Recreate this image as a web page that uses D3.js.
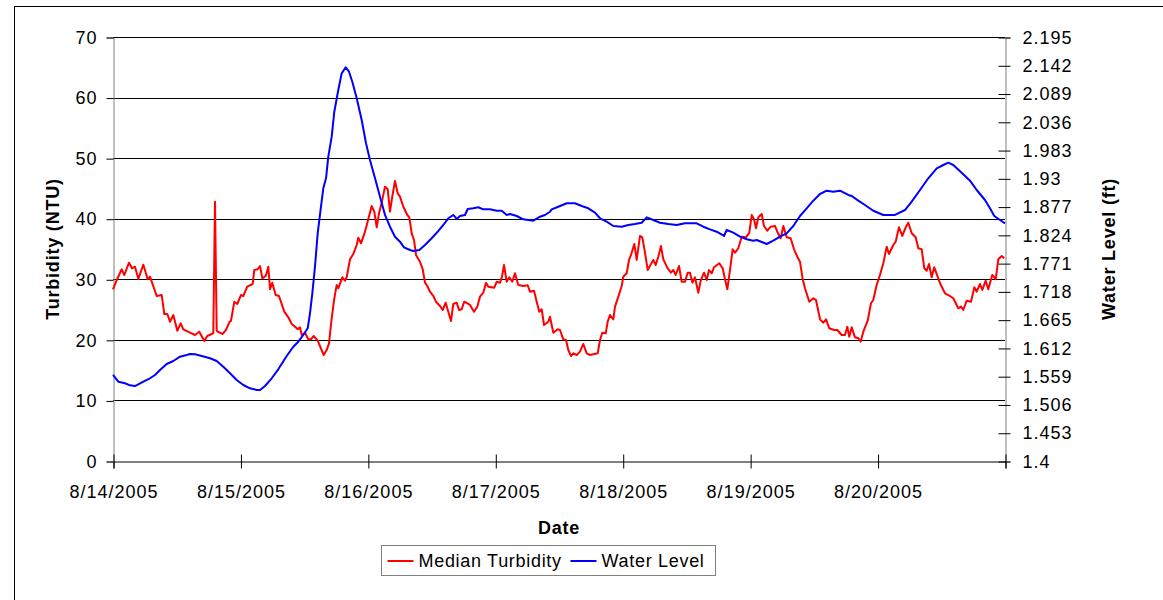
<!DOCTYPE html>
<html>
<head>
<meta charset="utf-8">
<script src="https://cdn.jsdelivr.net/npm/d3@7"></script>
<style>
  html, body { margin: 0; padding: 0; background: #fff; }
  svg text { font-family: "Liberation Sans", Arial, sans-serif; fill: #000; }
</style>
</head>
<body>
<svg id="chart" width="1163" height="600"></svg>
<script>
// Series start: 8/14/2005 00:00; sample times are given in hours from the start.
const startDate = new Date(2005, 7, 14);

// Median turbidity (NTU)
const turbidityHours = [
  0.0, 0.7, 1.64, 2.13, 3.01, 3.58, 4.14, 4.77, 5.71, 6.54, 6.97, 8.23, 9.17, 9.66, 10.23, 10.74,
  11.36, 12.11, 12.75, 13.24, 14.5, 15.44, 16.25, 17.2, 17.76, 18.59, 18.89, 19.21, 19.53, 19.72,
  20.66, 21.28, 21.9, 22.22, 22.85, 23.41, 24.11, 24.54, 25.29, 26.31, 26.61, 27.25, 27.69, 28.12,
  28.76, 29.25, 29.57, 30.0, 30.64, 31.26, 32.26, 33.02, 33.66, 34.28, 34.79, 35.22, 35.54, 36.16,
  36.78, 37.29, 37.8, 38.55, 39.68, 40.25, 40.68, 41.19, 41.68, 42.13, 42.43, 43.19, 43.69, 44.01,
  44.64, 45.26, 45.9, 46.2, 46.71, 47.46, 48.08, 48.72, 49.21, 49.67, 50.1, 50.61, 51.23, 51.74,
  52.17, 52.6, 53.11, 53.62, 54.05, 54.68, 55.43, 55.81, 56.26, 56.69, 57.07, 57.82, 58.33, 58.76,
  59.2, 59.7, 60.33, 60.83, 61.59, 62.09, 62.66, 63.15, 63.66, 64.09, 64.73, 65.17, 65.67, 66.16,
  67.24, 67.99, 68.61, 69.12, 69.74, 70.25, 70.68, 71.81, 72.27, 72.89, 73.26, 73.64, 74.15, 74.64,
  75.2, 75.71, 76.33, 77.28, 78.1, 78.54, 79.29, 79.8, 80.29, 80.74, 81.18, 81.99, 82.3, 82.93,
  83.75, 84.19, 84.81, 85.32, 85.75, 86.26, 86.7, 87.33, 87.95, 88.58, 89.22, 89.84, 91.29, 91.72,
  92.16, 92.8, 93.17, 93.6, 94.23, 94.55, 95.17, 95.81, 96.11, 96.75, 97.18, 97.56, 98.18, 98.63,
  99.25, 99.69, 100.2, 100.71, 101.33, 101.76, 102.21, 102.7, 103.21, 103.64, 104.47, 105.09,
  105.53, 105.98, 106.6, 107.11, 107.73, 108.24, 108.67, 109.14, 109.61, 110.24, 110.69, 111.31,
  111.82, 112.25, 112.76, 113.19, 114.19, 114.83, 115.13, 115.7, 116.2, 116.71, 117.15, 117.77,
  118.41, 119.22, 119.84, 120.29, 120.73, 121.1, 121.54, 122.18, 122.61, 123.23, 123.87, 124.68,
  125.11, 125.75, 126.25, 126.88, 127.64, 128.26, 128.88, 129.39, 129.9, 130.33, 131.14, 131.9,
  132.4, 133.16, 133.78, 134.29, 134.91, 135.8, 136.42, 137.24, 137.86, 138.3, 138.67, 139.13,
  139.75, 140.37, 140.82, 141.31, 142.14, 142.76, 143.19, 143.83, 144.45, 145.08, 145.72, 146.15,
  146.96, 147.41, 148.03, 148.66, 149.3, 149.79, 150.43, 151.18, 151.67, 152.31, 152.8, 153.25,
  153.69, 154.19, 154.68, 155.76, 156.7, 157.64, 158.26, 159.2, 159.71, 160.14, 160.78, 161.6,
  162.22, 162.67, 163.29, 163.73, 164.36, 164.85, 165.6, 166.25, 166.74, 167.38, 167.87
];
const turbidityValues = [
  28.35, 29.88, 31.65, 30.71, 32.74, 31.81, 32.08, 30.05, 32.41, 30.0, 30.43, 27.24, 27.41, 24.27, 24.27, 23.0,
  24.1, 21.51, 22.73, 21.74, 21.18, 20.8, 21.35, 19.81, 20.64, 20.97, 21.1, 42.81, 21.5, 21.35,
  20.97, 21.63, 22.9, 23.16, 26.3, 25.92, 27.41, 27.24, 28.78, 29.22, 31.53, 31.65, 32.19, 30.16,
  30.54, 32.08, 28.35, 29.44, 27.41, 27.24, 24.65, 23.72, 22.62, 22.17, 21.74, 22.07, 20.8, 21.18,
  20.09, 20.09, 20.64, 19.86, 17.5, 18.33, 19.43, 23.56, 26.86, 29.06, 28.51, 30.33, 29.77, 30.33,
  33.3, 34.18, 35.66, 36.87, 35.94, 37.86, 39.9, 42.1, 41.16, 38.58, 40.89, 42.65, 45.29, 44.86,
  41.16, 43.64, 46.23, 44.2, 43.64, 41.98, 40.61, 40.23, 37.59, 36.49, 34.01, 32.9, 31.65, 29.44,
  28.89, 27.95, 27.24, 26.3, 25.59, 24.93, 26.14, 24.65, 23.11, 25.92, 26.14, 24.93, 25.05, 26.3,
  25.76, 24.65, 25.48, 27.13, 27.79, 29.44, 28.78, 28.61, 29.6, 29.44, 30.43, 32.36, 29.6, 30.33,
  29.6, 30.99, 29.06, 28.89, 29.01, 27.95, 28.12, 26.3, 24.65, 25.05, 22.45, 23.0, 23.82, 21.18,
  21.74, 21.63, 20.09, 19.98, 18.33, 17.34, 17.78, 17.5, 18.05, 19.32, 17.78, 17.5, 17.78, 19.98,
  21.18, 21.08, 23.0, 24.1, 23.39, 25.48, 27.13, 28.89, 30.43, 30.99, 33.19, 34.01, 35.83, 33.19,
  37.15, 36.93, 34.39, 31.53, 32.52, 33.19, 32.36, 33.73, 35.5, 33.3, 31.81, 31.09,
  31.53, 30.71, 32.19, 29.6, 29.6, 31.09, 31.09, 29.44, 30.33, 27.79, 29.77, 31.09,
  29.88, 31.53, 30.99, 31.98, 32.64, 31.81, 30.54, 28.35, 31.53, 34.95, 34.39, 35.12,
  37.03, 36.93, 37.69, 40.61, 39.9, 38.42, 40.23, 40.78, 38.8, 38.02, 38.68, 38.8,
  37.86, 36.77, 38.8, 36.93, 36.77, 34.95, 33.73, 32.9, 30.0, 28.51, 26.3, 26.86,
  26.58, 23.39, 22.83, 23.39, 21.91, 21.63, 21.63, 20.8, 20.8, 22.17, 20.52, 22.07,
  20.42, 20.26, 19.7, 21.35, 23.16, 26.04, 26.58, 29.06, 30.71, 32.64, 35.38, 34.18,
  35.66, 36.21, 38.58, 37.15, 38.58, 39.34, 37.59, 36.93, 35.12, 34.95, 31.81, 31.42,
  32.52, 30.33, 31.98, 29.34, 27.69, 27.24, 26.86, 25.21, 25.48, 24.93, 26.47, 26.3,
  28.68, 27.95, 29.22, 28.23, 29.77, 28.35, 30.71, 30.0, 33.3, 33.85, 33.47
];

// Water level (ft)
const levelHours = [
  0.0, 1.0, 2.26, 3.2, 4.14, 5.71, 6.97, 7.91, 8.85, 10.11, 11.36, 12.62, 13.88, 14.5, 15.44, 16.71,
  18.27, 19.53, 20.77, 22.04, 23.3, 24.54, 25.8, 27.06, 27.69, 28.63, 29.89, 31.13, 32.71, 33.96,
  34.9, 35.84, 36.67, 37.1, 37.54, 38.04, 38.55, 39.17, 39.61, 40.12, 40.55, 41.19, 41.68, 42.43,
  43.07, 43.83, 44.45, 45.07, 45.9, 46.84, 47.65, 48.4, 49.35, 50.29, 51.23, 52.17, 53.11, 54.05,
  54.81, 55.94, 56.56, 57.69, 58.76, 60.02, 61.27, 62.21, 63.15, 64.09, 64.73, 65.35, 66.3, 66.8,
  67.86, 68.8, 69.74, 71.0, 72.27, 73.21, 74.15, 74.77, 76.03, 77.28, 79.16, 80.42, 81.36, 82.3,
  82.62, 83.87, 85.45, 87.01, 88.28, 89.52, 90.78, 91.72, 92.98, 94.23, 95.81, 97.05, 98.31, 99.57,
  100.52, 101.76, 103.02, 104.59, 106.17, 107.73, 109.29, 109.93, 111.18, 112.44, 113.7, 115.08,
  115.58, 116.83, 118.09, 119.35, 120.59, 121.23, 122.18, 123.12, 124.36, 125.62, 126.88, 128.13,
  129.39, 130.65, 131.89, 133.16, 134.42, 135.66, 136.92, 138.49, 139.13, 140.37, 141.63, 143.19,
  145.08, 147.28, 149.16, 150.43, 151.99, 153.55, 155.14, 156.38, 157.32, 158.26, 159.84, 161.41,
  162.67, 164.23, 165.17, 165.98, 167.06, 168.0
];
const levelValues = [
  1.5613, 1.5487, 1.5457, 1.5419, 1.5406, 1.5487, 1.5551, 1.5613, 1.5706, 1.5819, 1.5875, 1.5956, 1.5988, 1.6006, 1.6001, 1.5969,
  1.5926, 1.5875, 1.5768, 1.5644, 1.5519, 1.5425, 1.5363, 1.5331, 1.5331, 1.5406, 1.5551, 1.5719, 1.5969, 1.6143,
  1.6237, 1.6363, 1.6488, 1.6769, 1.7144, 1.7643, 1.8269, 1.8768, 1.9113, 1.9301, 1.9706, 2.0081, 2.0549, 2.0956,
  2.1269, 2.1382, 2.1299, 2.1112, 2.0801, 2.0394, 1.9957, 1.9644, 1.9301, 1.8956, 1.8613, 1.8393, 1.8206, 1.8112,
  1.8007, 1.7956, 1.7938, 1.7956, 1.805, 1.8176, 1.8313, 1.8425, 1.8551, 1.8613, 1.8538, 1.8594, 1.8613, 1.8725,
  1.8738, 1.8757, 1.8719, 1.8719, 1.8693, 1.8693, 1.8613, 1.8631, 1.8594, 1.8532, 1.8506, 1.8581, 1.8613, 1.8674,
  1.8719, 1.8768, 1.8832, 1.8832, 1.8781, 1.8738, 1.8656, 1.8551, 1.8487, 1.8406, 1.8393, 1.8425, 1.8444, 1.8468,
  1.8569, 1.8519, 1.8468, 1.8444, 1.8425, 1.8457, 1.8457, 1.8457, 1.8393, 1.8344, 1.8299, 1.8219,
  1.8331, 1.8281, 1.8206, 1.8157, 1.8131, 1.8144, 1.8106, 1.8069, 1.8131, 1.8206, 1.8269, 1.8406,
  1.8594, 1.8738, 1.8881, 1.9006, 1.9068, 1.9049, 1.9068, 1.8988, 1.8969, 1.8881, 1.88, 1.8693,
  1.8613, 1.8613, 1.8706, 1.8862, 1.9081, 1.9301, 1.9488, 1.955, 1.9593, 1.955, 1.9406, 1.9256,
  1.9081, 1.8894, 1.8738, 1.8594, 1.8519, 1.8457
];

// Axis ticks and labels
const dayTicks = [14, 15, 16, 17, 18, 19, 20, 21];
const dayLabels = ["8/14/2005", "8/15/2005", "8/16/2005", "8/17/2005", "8/18/2005", "8/19/2005", "8/20/2005", ""];
const turbidityTicks = [0, 10, 20, 30, 40, 50, 60, 70];
const levelTickLabels = ["1.4", "1.453", "1.506", "1.559", "1.612", "1.665", "1.718", "1.771",
  "1.824", "1.877", "1.93", "1.983", "2.036", "2.089", "2.142", "2.195"];

const series = [
  { name: "Median Turbidity", color: "#ff0000" },
  { name: "Water Level", color: "#0000ff" }
];

const svg = d3.select("#chart");
const plot = { left: 113, top: 37, right: 1005, bottom: 461 };
const hourMs = 3600 * 1000;
const toDate = h => new Date(startDate.getTime() + h * hourMs);

const x = d3.scaleTime()
  .domain([startDate, new Date(2005, 7, 21)])
  .range([plot.left, plot.right]);
const yL = d3.scaleLinear().domain([0, 70]).range([plot.bottom, plot.top]);
const yR = d3.scaleLinear().domain([1.4, 2.195]).range([plot.bottom, plot.top]);

// Outer frame
svg.append("rect")
  .attr("x", 14.5).attr("y", 6.5).attr("width", 1300).attr("height", 800)
  .attr("fill", "none").attr("stroke", "#000").attr("stroke-width", 1);

// Horizontal gridlines
svg.append("g")
  .selectAll("line")
  .data(turbidityTicks.filter(d => d > 0))
  .join("line")
  .attr("x1", plot.left).attr("x2", plot.right)
  .attr("y1", d => Math.round(yL(d)) + 0.5).attr("y2", d => Math.round(yL(d)) + 0.5)
  .attr("stroke", "#000").attr("stroke-width", 1);

const tickFont = g => g.selectAll("text")
  .style("font-size", "18px").style("letter-spacing", "1px").attr("fill", "#000");

// Left axis
const leftAxis = svg.append("g")
  .attr("transform", `translate(${plot.left + 0.5},0.5)`)
  .call(d3.axisLeft(yL).tickValues(turbidityTicks).tickSize(7).tickPadding(9).tickFormat(d3.format("d")));
leftAxis.select(".domain").attr("stroke", "#808080");
leftAxis.selectAll(".tick line").attr("stroke", "#000");
leftAxis.call(tickFont);

// Right axis
const levelTicks = levelTickLabels.map(Number);
const rightAxis = svg.append("g")
  .attr("transform", `translate(${plot.right + 0.5},0.5)`)
  .call(d3.axisRight(yR).tickValues(levelTicks).tickSize(5).tickPadding(12)
    .tickFormat((d, i) => levelTickLabels[i]));
rightAxis.select(".domain").attr("stroke", "#808080");
rightAxis.selectAll(".tick line").attr("x1", -7).attr("x2", 5).attr("stroke", "#000");
rightAxis.call(tickFont);

// Bottom axis
const bottomAxis = svg.append("g")
  .attr("transform", `translate(0.5,${plot.bottom + 0.5})`)
  .call(d3.axisBottom(x).tickValues(dayTicks.map(d => new Date(2005, 7, d)))
    .tickSize(7).tickPadding(17).tickFormat((d, i) => dayLabels[i]));
bottomAxis.select(".domain").attr("stroke", "#000");
bottomAxis.selectAll(".tick line").attr("y1", -7).attr("y2", 7).attr("stroke", "#000");
bottomAxis.call(tickFont);

// Series lines
const turbidity = turbidityHours.map((h, i) => ({ t: toDate(h), v: turbidityValues[i] }));
const level = levelHours.map((h, i) => ({ t: toDate(h), v: levelValues[i] }));

svg.append("path")
  .datum(turbidity)
  .attr("fill", "none").attr("stroke", series[0].color).attr("stroke-width", 2)
  .attr("stroke-linejoin", "round")
  .attr("d", d3.line().x(d => x(d.t)).y(d => yL(d.v)));

svg.append("path")
  .datum(level)
  .attr("fill", "none").attr("stroke", series[1].color).attr("stroke-width", 2)
  .attr("stroke-linejoin", "round")
  .attr("d", d3.line().x(d => x(d.t)).y(d => yR(d.v)));

// Axis titles
svg.append("text")
  .attr("transform", `translate(59,${(plot.top + plot.bottom) / 2}) rotate(-90)`)
  .attr("text-anchor", "middle")
  .style("font-size", "18px").style("font-weight", "bold").style("letter-spacing", "0.8px")
  .text("Turbidity (NTU)");

svg.append("text")
  .attr("transform", `translate(1115,${(plot.top + plot.bottom) / 2}) rotate(-90)`)
  .attr("text-anchor", "middle")
  .style("font-size", "18px").style("font-weight", "bold").style("letter-spacing", "0.8px")
  .text("Water Level (ft)");

svg.append("text")
  .attr("x", (plot.left + plot.right) / 2).attr("y", 534)
  .attr("text-anchor", "middle")
  .style("font-size", "18px").style("font-weight", "bold").style("letter-spacing", "0.8px")
  .text("Date");

// Legend
const legend = svg.append("g").attr("transform", "translate(381.5,545.5)");
legend.append("rect")
  .attr("width", 334).attr("height", 30)
  .attr("fill", "#fff").attr("stroke", "#808080").attr("stroke-width", 1);
const legendX = [6, 189];
series.forEach((s, i) => {
  const g = legend.append("g").attr("transform", `translate(${legendX[i]},15)`);
  g.append("line").attr("x1", 0).attr("x2", 26).attr("y1", 0.5).attr("y2", 0.5)
    .attr("stroke", s.color).attr("stroke-width", 2);
  g.append("text").attr("x", 31).attr("y", 6.5)
    .style("font-size", "18px").style("letter-spacing", "0.7px")
    .text(s.name);
});
</script>
</body>
</html>
